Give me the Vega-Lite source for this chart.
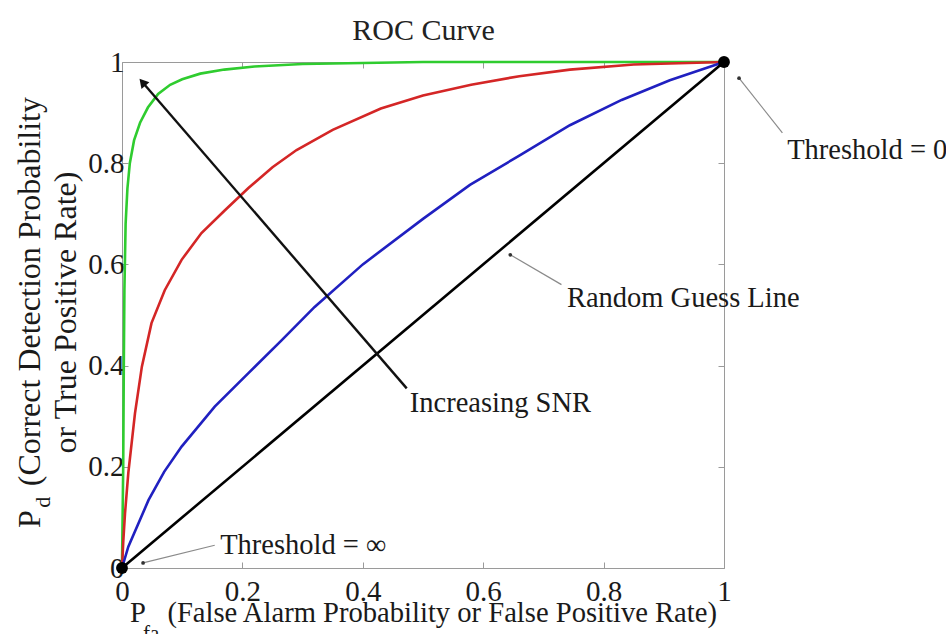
{
  "$schema": "https://vega.github.io/schema/vega-lite/v6.json",
  "autosize": {"type": "none"},
  "padding": {"left": 122, "top": 62, "right": 222, "bottom": 66},
  "width": 602,
  "height": 506,
  "background": "white",
  "config": {
    "view": {"stroke": "#9a9a9a", "strokeWidth": 1},
    "font": "Liberation Serif",
    "text": {"font": "Liberation Serif"},
    "axis": {"titleFont": "Liberation Serif", "labelFont": "Liberation Serif"}
  },
  "datasets": {
    "curves": [
      {"series": "green", "x": 0, "y": 0},
      {"series": "green", "x": 0.002, "y": 0.2},
      {"series": "green", "x": 0.003, "y": 0.4},
      {"series": "green", "x": 0.004, "y": 0.55},
      {"series": "green", "x": 0.006, "y": 0.68},
      {"series": "green", "x": 0.009, "y": 0.75},
      {"series": "green", "x": 0.013, "y": 0.8},
      {"series": "green", "x": 0.02, "y": 0.845},
      {"series": "green", "x": 0.03, "y": 0.88},
      {"series": "green", "x": 0.043, "y": 0.91},
      {"series": "green", "x": 0.06, "y": 0.937},
      {"series": "green", "x": 0.08, "y": 0.955},
      {"series": "green", "x": 0.1, "y": 0.966},
      {"series": "green", "x": 0.13, "y": 0.977},
      {"series": "green", "x": 0.17, "y": 0.985},
      {"series": "green", "x": 0.22, "y": 0.991},
      {"series": "green", "x": 0.3, "y": 0.996},
      {"series": "green", "x": 0.4, "y": 0.998},
      {"series": "green", "x": 0.5, "y": 1},
      {"series": "green", "x": 0.75, "y": 1},
      {"series": "green", "x": 1, "y": 1},
      {"series": "red", "x": 0, "y": 0},
      {"series": "red", "x": 0.002, "y": 0.05},
      {"series": "red", "x": 0.005, "y": 0.108},
      {"series": "red", "x": 0.0105, "y": 0.188},
      {"series": "red", "x": 0.0216, "y": 0.306},
      {"series": "red", "x": 0.033, "y": 0.398},
      {"series": "red", "x": 0.049, "y": 0.484},
      {"series": "red", "x": 0.071, "y": 0.549},
      {"series": "red", "x": 0.099, "y": 0.609},
      {"series": "red", "x": 0.132, "y": 0.662},
      {"series": "red", "x": 0.171, "y": 0.707},
      {"series": "red", "x": 0.21, "y": 0.751},
      {"series": "red", "x": 0.25, "y": 0.792},
      {"series": "red", "x": 0.29, "y": 0.826},
      {"series": "red", "x": 0.35, "y": 0.866},
      {"series": "red", "x": 0.43, "y": 0.908},
      {"series": "red", "x": 0.5, "y": 0.934},
      {"series": "red", "x": 0.58, "y": 0.955},
      {"series": "red", "x": 0.66, "y": 0.972},
      {"series": "red", "x": 0.744, "y": 0.985},
      {"series": "red", "x": 0.85, "y": 0.995},
      {"series": "red", "x": 1, "y": 1},
      {"series": "blue", "x": 0, "y": 0},
      {"series": "blue", "x": 0.0105, "y": 0.042},
      {"series": "blue", "x": 0.044, "y": 0.134},
      {"series": "blue", "x": 0.07, "y": 0.19},
      {"series": "blue", "x": 0.099, "y": 0.24},
      {"series": "blue", "x": 0.154, "y": 0.319},
      {"series": "blue", "x": 0.21, "y": 0.385},
      {"series": "blue", "x": 0.265, "y": 0.45},
      {"series": "blue", "x": 0.32, "y": 0.516},
      {"series": "blue", "x": 0.4, "y": 0.6},
      {"series": "blue", "x": 0.5, "y": 0.69},
      {"series": "blue", "x": 0.578, "y": 0.757},
      {"series": "blue", "x": 0.66, "y": 0.815},
      {"series": "blue", "x": 0.744, "y": 0.875},
      {"series": "blue", "x": 0.83, "y": 0.925},
      {"series": "blue", "x": 0.91, "y": 0.964},
      {"series": "blue", "x": 1, "y": 1},
      {"series": "diagonal", "x": 0, "y": 0},
      {"series": "diagonal", "x": 1, "y": 1}
    ],
    "endpoints": [
      {"label": "Threshold = ∞", "x": 0, "y": 0},
      {"label": "Threshold = 0", "x": 1, "y": 1}
    ],
    "arrow": [
      {"x": 0.473, "y": 0.355, "x2": 0.034, "y2": 0.96}
    ],
    "leaders": [
      {"label": "Threshold = 0", "x": 1.097, "y": 0.86, "x2": 1.025, "y2": 0.968},
      {"label": "Random Guess Line", "x": 0.73, "y": 0.56, "x2": 0.645, "y2": 0.619},
      {"label": "Threshold = ∞", "x": 0.154, "y": 0.045, "x2": 0.035, "y2": 0.01}
    ],
    "notes": [
      {"text": "Threshold = 0", "x": 1.105, "y": 0.826},
      {"text": "Random Guess Line", "x": 0.739, "y": 0.534},
      {"text": "Increasing SNR", "x": 0.478, "y": 0.326},
      {"text": "Threshold = ∞", "x": 0.163, "y": 0.045}
    ]
  },
  "resolve": {"axis": {"x": "independent", "y": "independent"}},
  "layer": [
    {
      "data": {"name": "curves"},
      "mark": {"type": "line", "strokeWidth": 2.6, "clip": false},
      "encoding": {
        "x": {
          "field": "x", "type": "quantitative",
          "scale": {"domain": [0, 1], "nice": false, "zero": false},
          "axis": {
            "orient": "bottom",
            "values": [0, 0.2, 0.4, 0.6, 0.8, 1],
            "format": "~g",
            "grid": false,
            "domain": false,
            "tickSize": -6,
            "tickColor": "#9a9a9a",
            "labelFont": "Liberation Serif",
            "labelFontSize": 29,
            "labelColor": "#1a1a1a",
            "labelPadding": 15,
            "labelFlush": false,
            "labelOverlap": false,
            "title": "P\u2002\u00a0(False Alarm Probability or False Positive Rate)",
            "titleFont": "Liberation Serif",
            "titleFontSize": 28.6,
            "titleFontWeight": "normal",
            "titleColor": "#1a1a1a",
            "titlePadding": -8
          }
        },
        "y": {
          "field": "y", "type": "quantitative",
          "scale": {"domain": [0, 1], "nice": false, "zero": false},
          "axis": {
            "orient": "left",
            "values": [0, 0.2, 0.4, 0.6, 0.8, 1],
            "format": "~g",
            "grid": false,
            "domain": false,
            "tickSize": -6,
            "tickColor": "#9a9a9a",
            "labelFont": "Liberation Serif",
            "labelFontSize": 29,
            "labelColor": "#1a1a1a",
            "labelPadding": 4,
            "labelFlush": false,
            "labelOverlap": false,
            "title": ["P\u2002\u00a0(Correct Detection Probability", "or True Positive Rate)"],
            "titleFont": "Liberation Serif",
            "titleFontSize": 32,
            "titleFontWeight": "normal",
            "titleColor": "#1a1a1a",
            "titleLineHeight": 36,
            "titlePadding": 5,
            "titleY": 250
          }
        },
        "color": {
          "field": "series", "type": "nominal",
          "scale": {"domain": ["green", "red", "blue", "diagonal"], "range": ["#2fcc2f", "#d42626", "#2020c0", "#000000"]},
          "legend": null
        }
      }
    },
    {
      "data": {"name": "arrow"},
      "mark": {"type": "rule", "color": "#111111", "strokeWidth": 2.4},
      "encoding": {
        "x": {"field": "x", "type": "quantitative", "axis": null},
        "y": {"field": "y", "type": "quantitative", "axis": null},
        "x2": {"field": "x2"},
        "y2": {"field": "y2"}
      }
    },
    {
      "data": {"name": "arrow"},
      "mark": {"type": "point", "shape": "triangle-up", "filled": true, "color": "#111111", "size": 110, "angle": 319, "opacity": 1},
      "encoding": {
        "x": {"field": "x2", "type": "quantitative", "axis": null},
        "y": {"field": "y2", "type": "quantitative", "axis": null}
      }
    },
    {
      "data": {"name": "leaders"},
      "mark": {"type": "rule", "color": "#8a8a8a", "strokeWidth": 1.2, "clip": false},
      "encoding": {
        "x": {"field": "x", "type": "quantitative", "axis": null},
        "y": {"field": "y", "type": "quantitative", "axis": null},
        "x2": {"field": "x2"},
        "y2": {"field": "y2"}
      }
    },
    {
      "data": {"name": "leaders"},
      "mark": {"type": "point", "shape": "circle", "filled": true, "color": "#333333", "size": 14, "opacity": 1, "clip": false},
      "encoding": {
        "x": {"field": "x2", "type": "quantitative", "axis": null},
        "y": {"field": "y2", "type": "quantitative", "axis": null}
      }
    },
    {
      "data": {"name": "endpoints"},
      "mark": {"type": "point", "shape": "circle", "filled": true, "color": "#000000", "size": 140, "opacity": 1, "clip": false},
      "encoding": {
        "x": {
          "field": "x", "type": "quantitative",
          "axis": {"orient": "top", "values": [0, 0.2, 0.4, 0.6, 0.8, 1], "labels": false, "grid": false, "domain": false, "tickSize": -6, "tickColor": "#9a9a9a", "title": "ROC Curve", "titleFont": "Liberation Serif", "titleFontSize": 30, "titleFontWeight": "normal", "titleColor": "#222222", "titlePadding": 16}
        },
        "y": {
          "field": "y", "type": "quantitative",
          "axis": {"orient": "right", "values": [0, 0.2, 0.4, 0.6, 0.8, 1], "labels": false, "grid": false, "domain": false, "tickSize": -6, "tickColor": "#9a9a9a", "title": null}
        }
      }
    },
    {
      "data": {"name": "notes"},
      "mark": {"type": "text", "align": "left", "baseline": "middle", "font": "Liberation Serif", "fontSize": 28.5, "color": "#1a1a1a", "clip": false},
      "encoding": {
        "x": {"field": "x", "type": "quantitative", "axis": null},
        "y": {"field": "y", "type": "quantitative", "axis": null},
        "text": {"field": "text"}
      }
    },
    {
      "data": {"values": [{"text": "fa", "x": 0.035, "y": -0.142}]},
      "mark": {"type": "text", "align": "left", "baseline": "alphabetic", "font": "Liberation Serif", "fontSize": 21, "color": "#1a1a1a", "clip": false},
      "encoding": {
        "x": {"field": "x", "type": "quantitative", "axis": null},
        "y": {"field": "y", "type": "quantitative", "axis": null},
        "text": {"field": "text"}
      }
    },
    {
      "data": {"values": [{"text": "d", "x": -0.12, "y": 0.119}]},
      "mark": {"type": "text", "align": "left", "baseline": "alphabetic", "angle": 270, "font": "Liberation Serif", "fontSize": 22, "color": "#1a1a1a", "clip": false},
      "encoding": {
        "x": {"field": "x", "type": "quantitative", "axis": null},
        "y": {"field": "y", "type": "quantitative", "axis": null},
        "text": {"field": "text"}
      }
    }
  ]
}
